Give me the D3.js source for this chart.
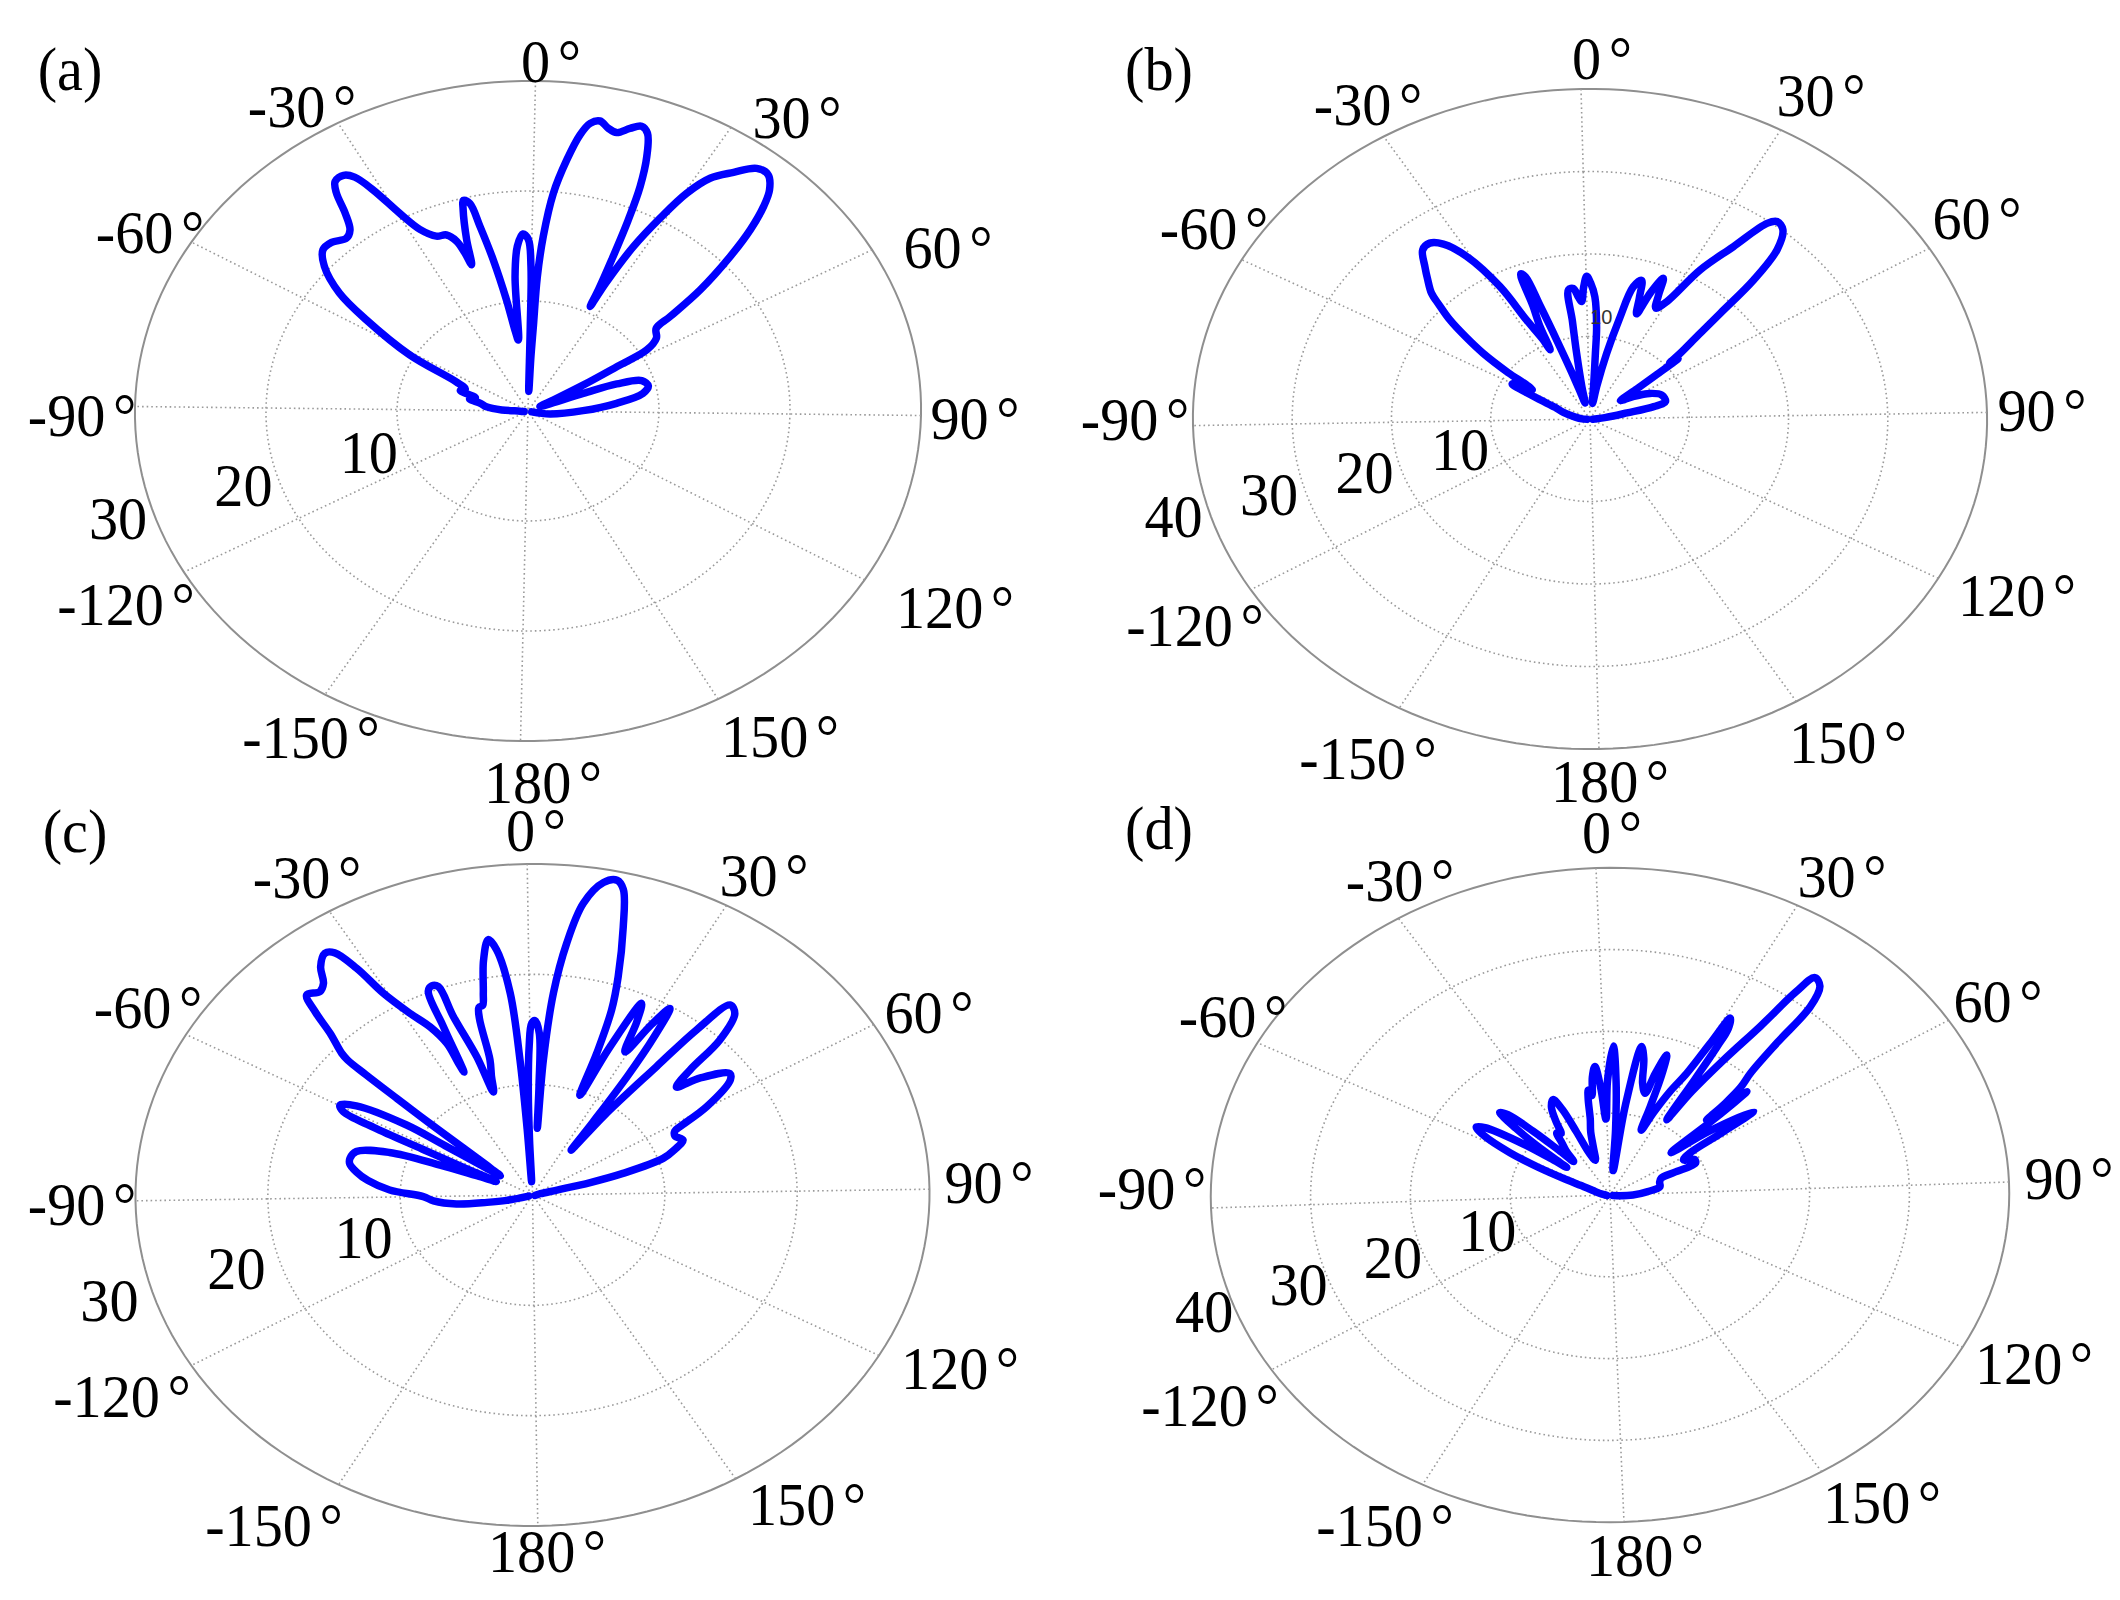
<!DOCTYPE html>
<html><head><meta charset="utf-8">
<script src="https://cdn.jsdelivr.net/npm/d3@7"></script>
<style>body{margin:0;background:#fff}</style>
</head><body>
<svg id="chart" width="2120" height="1600"></svg>
<script>
// ---------------- DATA ----------------
const angleTicks = [0, 30, 60, 90, 120, 150, 180, -150, -120, -90, -60, -30];
const ringTicksA = [10, 20, 30];
const ringTicksB = [10, 20, 30, 40];
const ringTicksC = [10, 20, 30];
const ringTicksD = [10, 20, 30, 40];
const panelTags = ["(a)", "(b)", "(c)", "(d)"];

// [angle in degrees (clockwise from top), radius]
const patternA = [
 [-100,0.3],[-92,0.6],[-88,2.0],[-84,3.2],[-80,3.7],[-77,4.6],[-74,4.2],[-71,5.5],[-68,5.2],[-65,6.1],
 [-61.4,10.4],[-57,14.9],[-54.2,18.0],[-50.7,20.4],[-47.8,21.5],[-45.3,21.5],[-42.4,21.0],[-40.5,21.4],
 [-38.8,22.8],[-37.4,24.7],[-36.2,25.6],[-34.3,25.7],[-32.9,25.1],[-31.5,23.4],[-29.6,20.5],[-27.6,18.5],
 [-24.8,17.4],[-22.3,17.2],[-20.5,16.4],[-19.6,15.2],[-19.0,14.0],[-17.8,16.3],[-16.2,19.0],[-15.5,19.8],
 [-14.3,19.4],[-13.4,17.2],[-12.0,14.0],[-10.3,10.2],[-8.8,7.4],[-7.6,6.5],[-5.7,12.3],[-4.2,15.0],
 [-2.5,16.1],[-1.0,15.6],[-0.1,13.1],[0.2,7.7],[0.8,1.8],[1.5,5.0],[1.95,7.7],[2.24,12.2],[3.1,15.9],
 [4.5,19.9],[6.3,23.0],[7.9,25.4],[9.2,26.55],[10.7,26.9],[12.3,26.4],[13.9,26.16],[15.8,26.8],
 [17.45,27.26],[18.8,26.8],[20.35,24.8],[21.7,22.1],[22.75,18.9],[23.9,15.1],[24.98,12.2],[25.5,10.6],
 [26.0,13.0],[27.27,16.9],[28.9,20.2],[30.46,23.15],[32.3,25.25],[34.9,26.7],[37.38,28.05],[39.56,28.15],
 [41.57,27.2],[43.1,25.8],[44.9,23.6],[46.78,20.8],[49.13,17.1],[50.74,13.8],[51.6,12.3],[55.06,11.8],
 [57.67,10.6],[58.4,7.9],[59.9,4.8],[61.8,2.2],[64.5,1.0],[68.4,4.5],[69.25,7.2],[71.56,9.1],[75.3,9.45],
 [78.9,8.9],[83.3,6.8],[88.8,4.2],[98.4,1.7],[105,0.3]
];

const patternB = [
 [-95,0.3],[-88,0.8],[-80,1.5],[-72,2.8],[-67,3.8],[-64,5.5],[-62,7.5],[-60.5,8.9],[-59,8.6],[-57.5,6.8],
 [-56,7.5],[-54.5,10],[-52.3,13.4],[-50.3,16],[-48.4,18.5],[-46.5,20.5],[-45.1,22.05],[-42.8,23.5],
 [-40.8,24.8],[-38.2,26.5],[-35.9,26.7],[-33.6,25.8],[-31.0,23.3],[-28.2,18.4],[-26.8,13.6],[-24.9,10.7],
 [-24.3,9.3],[-22.8,12.5],[-21.5,14.8],[-20.4,18.9],[-19.4,18.4],[-18.8,14.5],[-18.0,10],[-16.8,6],
 [-15,3],[-13,2],[-10.5,4],[-8.3,8.1],[-7.2,12],[-6.6,15.8],[-4.75,15.9],[-3.2,14.8],[-2.1,14.25],
 [-1.0,16],[0.2,17.3],[1.5,16.5],[3.2,14.8],[4.7,11.2],[5.2,8],[6.5,4],[9,1.9],[11,4],[13.2,8.1],
 [15,12.5],[16.5,16.6],[18.5,17.6],[20,15.5],[21.5,13.6],[23,16.5],[24.7,18.6],[26,16.5],[27.5,15.0],
 [29.8,16.2],[32.8,21.2],[35.9,25.4],[38.2,29.7],[39.45,30.5],[41.5,30.1],[43.8,27.9],[45.6,23.6],
 [46.9,18.4],[48.2,15],[50.0,12.1],[51,10.5],[51.8,11.5],[52.5,8.5],[53.5,6],[55,3.8],[57,4.2],
 [59.4,5.2],[64,6.8],[69.3,7.8],[75.6,7.9],[78,6.6],[80,3.8],[85,1.5],[90,0.5],[95,0.3]
];

const patternC = [
 [-108,0.3],[-103,2.0],[-100,3.5],[-97,5.8],[-93,7.5],[-90,8.25],[-86.6,10.8],[-83,12.5],[-80,13.5],
 [-77.5,14.1],[-75.5,14.2],[-72.5,13.9],[-69.4,11.5],[-67.8,7.5],[-66.5,4.5],[-65,3.0],[-63.5,5.5],
 [-62.5,9.3],[-62,13.5],[-61.2,16.2],[-59.8,16.7],[-57.8,15.6],[-55.4,11.5],[-55,8],[-54.2,4.5],
 [-53.2,3.0],[-51.5,4],[-50,6.5],[-49.2,10],[-48.6,13.5],[-48.2,16.7],[-47.9,18.6],[-47.4,19.35],
 [-45.35,21.2],[-43.8,23.4],[-42.4,24.95],[-40.2,24.5],[-38.6,24.9],[-36.9,26.2],[-34.75,27.0],
 [-33.4,26.6],[-32.05,24.5],[-30.8,21.5],[-28.5,18.9],[-26.1,17.1],[-24.4,15.2],[-24.3,13.2],
 [-24.1,12.3],[-23.0,16.7],[-22.3,20.1],[-21.1,20.45],[-19.85,20.2],[-19.5,17.3],[-17.8,13.25],
 [-16.75,9.8],[-15.3,11.2],[-13.9,12.7],[-13.3,16.5],[-12.6,17.5],[-11.6,17.6],[-10.7,18.7],[-9.1,21.6],
 [-7.45,23.4],[-6.2,22.4],[-4.5,18.4],[-3.65,12.3],[-3.1,6],[-2.5,1.2],[-1.8,5],[-1.2,9.2],[-0.3,13.5],
 [0.54,15.56],[1.46,15.8],[2.78,14.66],[3.6,10],[4.2,6.05],[4.6,12.26],[5.7,18.34],[7.23,22.95],
 [9.04,26.7],[11.5,28.8],[13.4,29.2],[14.7,28.5],[16.55,25.2],[18.9,20.8],[20.4,17.8],[21.5,13.7],
 [22.4,9.7],[24.35,14.6],[26.2,19.2],[27.5,17.5],[29.1,14.7],[31,17.8],[32.4,19.8],[33.5,17],[34.5,13],
 [35.5,8],[36.5,5],[37.8,9],[39.7,14.9],[40.5,19.4],[41.8,22.75],[43.8,22.4],[46.1,19.9],[47.3,16.4],
 [48.9,14.6],[51.0,16.5],[54.45,18.5],[56.0,18.2],[59.6,15.4],[61.9,12.7],[62.6,12.2],[64.5,12.0],
 [67.3,12.4],[70,11.5],[72.4,10.4],[75,7.1],[76.5,4.5],[77.5,1.9],[80,0.6],[90,0.3],[100,0.2]
];

const patternD = [
 [-100,0.3],[-90,0.4],[-80,0.8],[-72,1.5],[-68,2.2],[-66,3.2],[-64.5,4.8],[-62.5,8],[-60.5,11.3],
 [-58,14.5],[-56,15.8],[-54.5,15],[-52.5,11.5],[-51,7.5],[-50,5.5],[-48.5,9],[-47,12.5],[-45.4,15.0],
 [-44,14.2],[-42.5,11],[-41,7.5],[-39.5,5.5],[-37,7],[-35,8],[-33,9.3],[-31,9.0],[-29,10.5],[-26.5,12.3],
 [-24,13.0],[-22.5,11.5],[-21.5,8.5],[-20,5.5],[-17,4.5],[-14,6],[-12,8],[-10,9.5],[-8.5,12],[-7.6,13],
 [-6.5,12.3],[-5,14.5],[-3.5,15.8],[-2,13],[-0.5,9.3],[1,14],[3.07,18.2],[4.5,14],[6,8],[8,3],[10,11],
 [11.9,18.4],[13.5,17],[15.5,14],[17.8,12.9],[19,15.5],[20.4,18],[21.5,15.5],[22.5,11.5],[23.6,8.5],
 [25.5,11],[27.5,14],[29.4,16.7],[30.5,21],[31.2,24.7],[32.3,23.5],[32.7,21],[33.1,16.5],[33.8,10.8],
 [35,15],[36.7,20],[38.25,25.5],[39,31],[39.8,33.5],[41.6,33],[43.2,30.5],[44.1,25],[45.5,20.5],
 [47,18.5],[48,16],[48.7,13.3],[49.5,18.6],[50.5,14],[51.9,8],[54,12.5],[56.8,17.6],[58,13.5],
 [59.5,9.5],[62,8.5],[65,9.5],[67.8,9.4],[69,7],[70.5,5.5],[75,5.2],[80.8,5.1],[86,3.8],[92,2.3],
 [98,0.8],[105,0.3]
];

// ---------------- LAYOUT ----------------
const layout = [
 { tag: panelTags[0], data: patternA, ticks: ringTicksA, c: [528, 411], U: [393, 4.5], V: [7.5, -330],
   ringLabelAngle: -108, ringLabelPad: 0.09, tagXY: [70, 69],
   labelXY: [[551,60],[797,116],[948,246],[975,417],[955,606],[780,735],[543,781],[311,736],[126,603],[82,414],[150,231],[302,105]] },
 { tag: panelTags[1], data: patternB, ticks: ringTicksB, c: [1590, 419], U: [397, -6.6], V: [-9, -330],
   ringLabelAngle: -104.5, ringLabelPad: 0.09, tagXY: [1159, 69],
   labelXY: [[1602,57],[1821,94],[1977,217],[2042,409],[2017,594],[1848,741],[1610,780],[1368,757],[1195,624],[1135,418],[1214,227],[1368,103]] },
 { tag: panelTags[2], data: patternC, ticks: ringTicksC, c: [532.5, 1195], U: [397, -5.8], V: [-5.3, -331],
   ringLabelAngle: -105.5, ringLabelPad: 0.11, tagXY: [75, 831],
   labelXY: [[536,829],[764,874],[929,1011],[989,1181],[960,1367],[807,1503],[547,1550],[274,1524],[122,1395],[82,1203],[148,1006],[307,876]] },
 { tag: panelTags[3], data: patternD, ticks: ringTicksD, c: [1610, 1195], U: [399, -13], V: [-14, -327],
   ringLabelAngle: -107, ringLabelPad: 0.075, tagXY: [1159, 828],
   labelXY: [[1612,831],[1842,875],[1998,1000],[2069,1177],[2034,1362],[1882,1501],[1645,1554],[1385,1524],[1210,1404],[1152,1187],[1233,1015],[1400,879]] }
];

const FONT = "'Liberation Serif','Times New Roman',Times,serif";
const FS = 62;
const svg = d3.select("#chart");
svg.append("rect").attr("width", 2120).attr("height", 1600).attr("fill", "#fff");

const toRad = d3.scaleLinear().domain([0, 180]).range([0, Math.PI]);

function addText(g, x, y) {
  return g.append("text")
    .attr("transform", `translate(${x},${y}) scale(0.94,1)`)
    .attr("text-anchor", "middle").attr("dominant-baseline", "central")
    .attr("font-family", FONT).attr("font-size", FS).attr("fill", "#000");
}

layout.forEach((p, idx) => {
  const rmax = d3.max(p.ticks);
  const rScale = d3.scaleLinear().domain([0, rmax]).range([0, 1]);
  const proj = (deg, r) => {
    const t = toRad(deg), f = rScale(r), s = Math.sin(t), c = Math.cos(t);
    return [p.c[0] + f * (s * p.U[0] + c * p.V[0]), p.c[1] + f * (s * p.U[1] + c * p.V[1])];
  };
  const g = svg.append("g");

  // rings
  const ringAngles = d3.range(0, 362, 2);
  const plain = d3.line();
  p.ticks.forEach(t => {
    const outer = t === rmax;
    g.append("path")
      .attr("d", plain(ringAngles.map(a => proj(a, t))))
      .attr("fill", "none")
      .attr("stroke", outer ? "#8f8f8f" : "#9a9a9a")
      .attr("stroke-width", outer ? 2 : 1.6)
      .attr("stroke-dasharray", outer ? null : "1.6,3");
  });

  // spokes
  [0, 30, 60, 90, 120, 150].forEach(a => {
    const p1 = proj(a, rmax), p2 = proj(a + 180, rmax);
    g.append("line")
      .attr("x1", p1[0]).attr("y1", p1[1]).attr("x2", p2[0]).attr("y2", p2[1])
      .attr("stroke", "#9a9a9a").attr("stroke-width", 1.6).attr("stroke-dasharray", "1.6,3");
  });

  // ring tick labels
  p.ticks.forEach(t => {
    const [x, y] = proj(p.ringLabelAngle, t + p.ringLabelPad * rmax);
    addText(g, x, y).text(t);
  });

  // angle labels
  angleTicks.forEach((a, k) => {
    const [x, y] = p.labelXY[k];
    const tx = addText(g, x, y);
    tx.append("tspan").text(a);
    tx.append("tspan").attr("dx", 8).text("\u00B0");
  });

  // panel tag
  addText(g, p.tagXY[0], p.tagXY[1]).text(p.tag);

  // pattern curve
  const curve = d3.line()
    .x(d => proj(d[0], d[1])[0])
    .y(d => proj(d[0], d[1])[1])
    .curve(d3.curveCatmullRom.alpha(0.5));
  g.append("path")
    .attr("d", curve(p.data))
    .attr("fill", "none")
    .attr("stroke", "#0000ff")
    .attr("stroke-width", 7.5)
    .attr("stroke-linejoin", "round")
    .attr("stroke-linecap", "round");

  // stray small label in panel (b), drawn over the curve
  if (idx === 1) {
    const [x, y] = proj(6.5, 12.4);
    g.append("text").attr("x", x).attr("y", y)
      .attr("text-anchor", "middle").attr("dominant-baseline", "central")
      .attr("font-family", "'Liberation Sans',Arial,sans-serif").attr("font-size", 20).attr("fill", "#333")
      .text("10");
  }
});
</script>
</body></html>
